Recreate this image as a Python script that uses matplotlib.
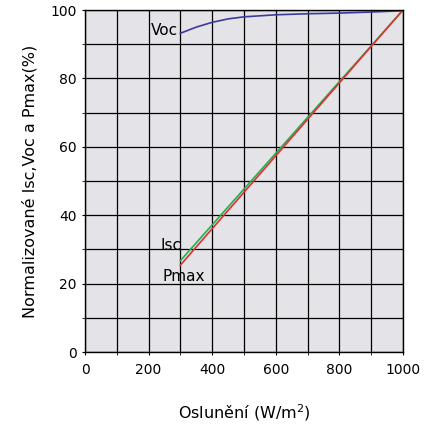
import matplotlib
matplotlib.use("Agg")
import matplotlib.pyplot as plt
from matplotlib.ticker import MultipleLocator

irr_voc = [300, 350, 400, 450, 500, 600, 700, 800, 900, 1000]
voc = [93.2, 95.0, 96.4, 97.4, 98.0, 98.6, 98.9, 99.1, 99.4, 99.8]
irr_lin = [300, 1000]
isc = [26.7, 100]
pmax = [25.4, 100]

fig = plt.figure(figsize=(4.35, 4.25), dpi=100)
ax = fig.add_axes([85/435, 1-352/425, 318/435, 342/425])
ax.set_facecolor('#e3e3e8')
ax.plot(irr_voc, voc, color='#3a3a9a', lw=1.2)
ax.plot(irr_lin, isc, color='#20b050', lw=1.2)
ax.plot(irr_lin, pmax, color='#e03030', lw=1.2)
ax.set_xlim(0, 1000)
ax.set_ylim(0, 100)
ax.xaxis.set_major_locator(MultipleLocator(200))
ax.xaxis.set_minor_locator(MultipleLocator(100))
ax.yaxis.set_major_locator(MultipleLocator(20))
ax.yaxis.set_minor_locator(MultipleLocator(10))
ax.grid(True, which='both', color='black', lw=0.9)
ax.set_axisbelow(True)
for s in ax.spines.values():
    s.set_linewidth(1.0)
ax.tick_params(which='both', length=2, labelsize=10, colors='black')
ax.tick_params(axis='x', pad=6)
ax.tick_params(axis='y', pad=4)
fs = 11
ax.text(293, 94.0, 'Voc', fontsize=fs, ha='right', va='center')
ax.text(236, 31.0, 'Isc', fontsize=fs, ha='left', va='center')
ax.text(245, 22.0, 'Pmax', fontsize=fs, ha='left', va='center')
ax.set_xlabel('Oslunění (W/m$^2$)', fontsize=11.5, labelpad=18)
ax.set_ylabel('Normalizované Isc,Voc a Pmax(%)', fontsize=11.5, labelpad=9)
fig.savefig('out.png', dpi=100)
